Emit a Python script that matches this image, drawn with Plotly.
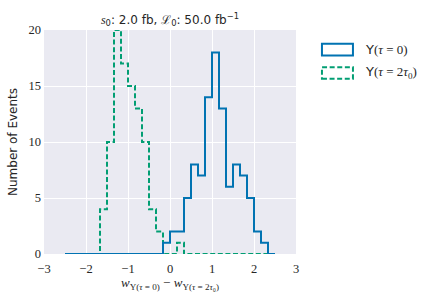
import numpy as np
import plotly.graph_objects as go

# Histogram bins: 30 bins over [-2.5, 2.5]
bin_lo, bin_hi, n_bins = -2.5, 2.5, 30
counts_tau0 = [0, 0, 0, 0, 0, 0, 0, 0, 0, 0, 0, 0, 0, 0, 1,
               2, 2, 5, 8, 7, 14, 18, 13, 6, 8, 7, 5, 2, 1, 0]
counts_tau2 = [0, 0, 0, 0, 0, 4, 10, 20, 17, 15, 13, 10, 4, 2, 0,
               0, 1, 0, 0, 0, 0, 0, 0, 0, 0, 0, 0, 0, 0, 0]
x_ticks = [-3, -2, -1, 0, 1, 2, 3]
y_ticks = [0, 5, 10, 15, 20]

edges = np.linspace(bin_lo, bin_hi, n_bins + 1)

BLUE = "#0173B2"
GREEN = "#029E73"
SERIF = "Liberation Serif, DejaVu Serif, serif"
SANS = "DejaVu Sans, sans-serif"

fig = go.Figure()
fig.add_trace(go.Scatter(
    x=edges, y=list(counts_tau2) + [counts_tau2[-1]], mode="lines",
    line=dict(color=GREEN, width=2, shape="hv", dash="5px,2.6px"), showlegend=False,
    name="Y(τ = 2τ0)"))
fig.add_trace(go.Scatter(
    x=edges, y=list(counts_tau0) + [counts_tau0[-1]], mode="lines",
    line=dict(color=BLUE, width=2, shape="hv"), showlegend=False,
    name="Y(τ = 0)"))

# manual legend (matplotlib-style patch boxes)
fig.add_shape(type="rect", xref="paper", yref="paper",
              x0=1.103, x1=1.226, y0=0.886, y1=0.9385,
              line=dict(color=BLUE, width=2), fillcolor="rgba(0,0,0,0)")
fig.add_shape(type="rect", xref="paper", yref="paper",
              x0=1.103, x1=1.226, y0=0.7826, y1=0.834,
              line=dict(color=GREEN, width=2, dash="5px,2.6px"), fillcolor="rgba(0,0,0,0)")
par = "<span style='font-family:Liberation Serif'>%s</span>"
fig.add_annotation(xref="paper", yref="paper", x=1.266, y=0.913, xanchor="left", yanchor="middle",
                   showarrow=False, font=dict(family=SANS, size=13, color="#262626"),
                   text="Y" + par % "(<i>τ</i> = 0)")
fig.add_annotation(xref="paper", yref="paper", x=1.266, y=0.8085, xanchor="left", yanchor="middle",
                   showarrow=False, font=dict(family=SANS, size=13, color="#262626"),
                   text="Y" + par % "(<i>τ</i> = 2<i>τ</i><sub>0</sub>)")

fig.update_layout(
    width=436, height=300,
    margin=dict(l=44, r=140, t=30, b=46, autoexpand=False),
    paper_bgcolor="white", plot_bgcolor="#EAEAF2",
    title=dict(
        text="<span style='font-family:Liberation Serif'><i>s</i></span><sub>0</sub>: 2.0 fb, "
             "<span style='font-family:Liberation Serif'>ℒ</span><sub>0</sub>: 50.0 fb<sup>−1</sup>",
        x=(44 + 126) / 436, xanchor="center", y=0.935, yanchor="middle",
        font=dict(family=SANS, size=12, color="#262626"), automargin=False),
    xaxis=dict(range=[-3, 3], tickvals=x_ticks, ticktext=[str(v).replace("-", "−") for v in x_ticks],
               showgrid=True, gridcolor="white", gridwidth=1, zeroline=False, ticks="",
               automargin=False, ticklabelstandoff=5,
               tickfont=dict(family=SERIF, size=12.5, color="#262626"),
               title=dict(text="<i>w</i><sub>Y(<i>τ</i> = 0)</sub> − <i>w</i><sub>Y(<i>τ</i> = 2<i>τ</i>₀)</sub>",
                          font=dict(family=SERIF, size=13, color="#262626"), standoff=1)),
    yaxis=dict(range=[0, 20], tickvals=y_ticks, showgrid=True, gridcolor="white", gridwidth=1,
               zeroline=False, ticks="", automargin=False, ticklabelstandoff=2,
               tickfont=dict(family=SERIF, size=12.5, color="#262626"),
               title=dict(text="Number of Events", font=dict(family=SANS, size=12, color="#262626"),
                          standoff=8)),
)

fig.write_html("out.html", config={"displayModeBar": False},
               post_script="document.body.style.margin='0';")
